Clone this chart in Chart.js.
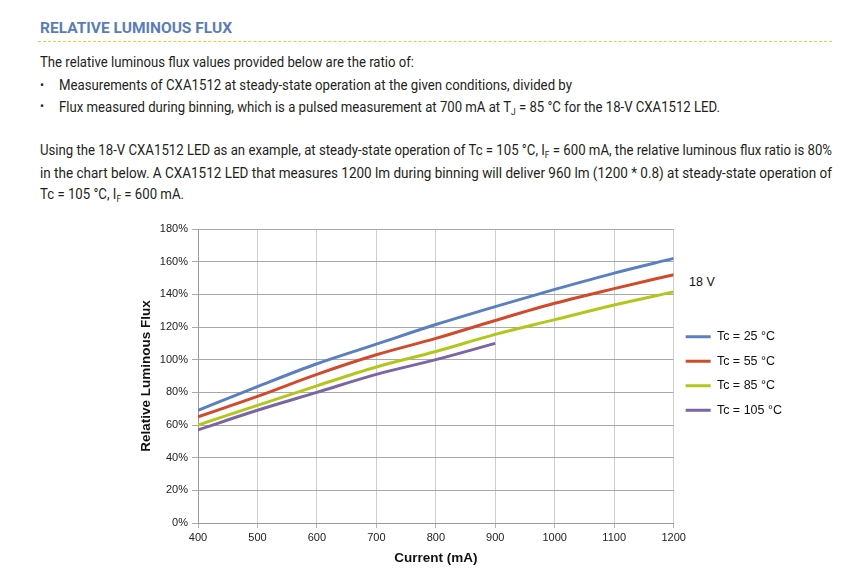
<!DOCTYPE html>
<html>
<head>
<meta charset="utf-8">
<script src="https://cdn.jsdelivr.net/npm/chart.js@4.4.1/dist/chart.umd.min.js"></script>
<style>
  body { margin: 0; background: #fff; width: 843px; height: 588px; overflow: hidden; position: relative;
         font-family: Roboto, "Noto Sans", sans-serif; color: #231f20; }
  .t { position: absolute; white-space: nowrap; transform-origin: 0 50%; line-height: 20px; font-size: 14px; }
  .t sub { font-size: 9px; vertical-align: -3px; line-height: 0; }
  #title { font-weight: bold; font-size: 15px; color: #5b7db5; }
  #rule { position: absolute; left: 38px; top: 41px; width: 794px; border-top: 1px dashed #e6cf2e; }
  .dot { position: absolute; font-size: 12px; line-height: 20px; }
  #volt { position: absolute; left: 689px; top: 275px; font: 12.5px "Liberation Sans", Arial, sans-serif; color: #111; }
  #box { position: absolute; left: 0; top: 215px; width: 843px; height: 373px; }
</style>
</head>
<body>
<div id="title" class="t" style="left:40px;top:18px" data-w="192">RELATIVE LUMINOUS FLUX</div>
<div id="rule"></div>
<div class="t" style="left:40px;top:52px" data-w="374">The relative luminous flux values provided below are the ratio of:</div>
<div class="dot" style="left:40px;top:75px">•</div>
<div class="t" style="left:59px;top:75px" data-w="513">Measurements of CXA1512 at steady-state operation at the given conditions, divided by</div>
<div class="dot" style="left:40px;top:96px">•</div>
<div class="t" style="left:59px;top:97px" data-w="661">Flux measured during binning, which is a pulsed measurement at 700 mA at T<sub>J</sub> = 85 °C for the 18-V CXA1512 LED.</div>
<div class="t" style="left:40px;top:140px" data-w="792">Using the 18-V CXA1512 LED as an example, at steady-state operation of Tc = 105 °C, I<sub>F</sub> = 600 mA, the relative luminous flux ratio is 80%</div>
<div class="t" style="left:40px;top:163px" data-w="792">in the chart below. A CXA1512 LED that measures 1200 lm during binning will deliver 960 lm (1200 * 0.8) at steady-state operation of</div>
<div class="t" style="left:40px;top:184px" data-w="144">Tc = 105 °C, I<sub>F</sub> = 600 mA.</div>
<div id="volt">18 V</div>
<div id="box"><canvas id="chart" width="843" height="373"></canvas></div>

<script>
// data
const currents = [400, 500, 600, 700, 800, 900, 1000, 1100, 1200];
const seriesNames = ['Tc = 25 °C', 'Tc = 55 °C', 'Tc = 85 °C', 'Tc = 105 °C'];
const flux25 = [69, 83.5, 97.5, 109.5, 121.5, 132.5, 143, 153, 162];
const flux55 = [65, 77.5, 91, 103, 113, 124, 134.5, 143.5, 152];
const flux85 = [60, 72, 84, 95.5, 105, 115.5, 124.5, 133.5, 141.5];
const flux105 = [57, 69, 80, 91, 100, 110, null, null, null];
const xTickValues = [400, 500, 600, 700, 800, 900, 1000, 1100, 1200];
const yTickValues = [0, 20, 40, 60, 80, 100, 120, 140, 160, 180];

const colors = ['#5b80c2', '#d04a2b', '#b2c61c', '#7b65a3'];
const allSeries = [flux25, flux55, flux85, flux105];

function toPoints(values) {
  const pts = [];
  values.forEach((v, i) => { if (v !== null) pts.push({ x: currents[i], y: v }); });
  return pts;
}

const tickFont = { family: '"Liberation Sans", Arial, sans-serif', size: 11 };
const titleFont = { family: '"Liberation Sans", Arial, sans-serif', size: 13.5, weight: 'bold' };

new Chart(document.getElementById('chart'), {
  type: 'line',
  data: {
    datasets: allSeries.map((s, i) => ({
      label: seriesNames[i],
      data: toPoints(s),
      borderColor: colors[i],
      backgroundColor: colors[i],
      borderWidth: 3,
      pointRadius: 0,
      cubicInterpolationMode: 'monotone'
    }))
  },
  options: {
    responsive: false,
    animation: false,
    layout: { padding: { left: 138, top: 14, bottom: 22, right: 51 } },
    plugins: {
      tooltip: { enabled: false },
      legend: {
        position: 'right',
        align: 'start',
        // empty title only pushes the entries down
        title: { display: true, text: '', font: { size: 12 }, padding: { top: 0, bottom: 75 } },
        labels: {
          boxWidth: 25,
          boxHeight: 3,
          padding: 12,
          color: '#111',
          font: { family: '"Liberation Sans", Arial, sans-serif', size: 12.5 },
          generateLabels: chart => Chart.defaults.plugins.legend.labels.generateLabels(chart)
            .map(l => Object.assign(l, { lineWidth: 0, fillStyle: l.strokeStyle }))
        }
      }
    },
    scales: {
      x: {
        type: 'linear',
        min: 400,
        max: 1200,
        afterBuildTicks: s => { s.ticks = xTickValues.map(v => ({ value: v })); },
        afterFit: s => { s.height = 43; },
        ticks: { font: tickFont, color: '#222', padding: 3, maxRotation: 0, callback: v => String(v) },
        grid: { color: '#cfcfcf', tickLength: 5, tickColor: '#b5b5b5' },
        border: { color: '#9a9a9a' },
        title: { display: true, text: 'Current (mA)', font: titleFont, color: '#111', padding: 0 }
      },
      y: {
        min: 0,
        max: 180,
        afterBuildTicks: s => { s.ticks = yTickValues.map(v => ({ value: v })); },
        afterFit: s => { s.width = 60; },
        ticks: { font: tickFont, color: '#222', padding: 4, callback: v => v + '%' },
        grid: { color: '#a9a9a9', tickLength: 6 },
        border: { color: '#9a9a9a' },
        title: { display: true, text: 'Relative Luminous Flux', font: titleFont, color: '#111', padding: 0 }
      }
    }
  }
});

function fitText() {
  document.querySelectorAll('[data-w]').forEach(el => {
    el.style.transform = 'none';
    const w = el.getBoundingClientRect().width;
    el.style.transform = 'scaleX(' + (el.dataset.w / w) + ')';
  });
}
fitText();
document.fonts.ready.then(fitText);
</script>
</body>
</html>
